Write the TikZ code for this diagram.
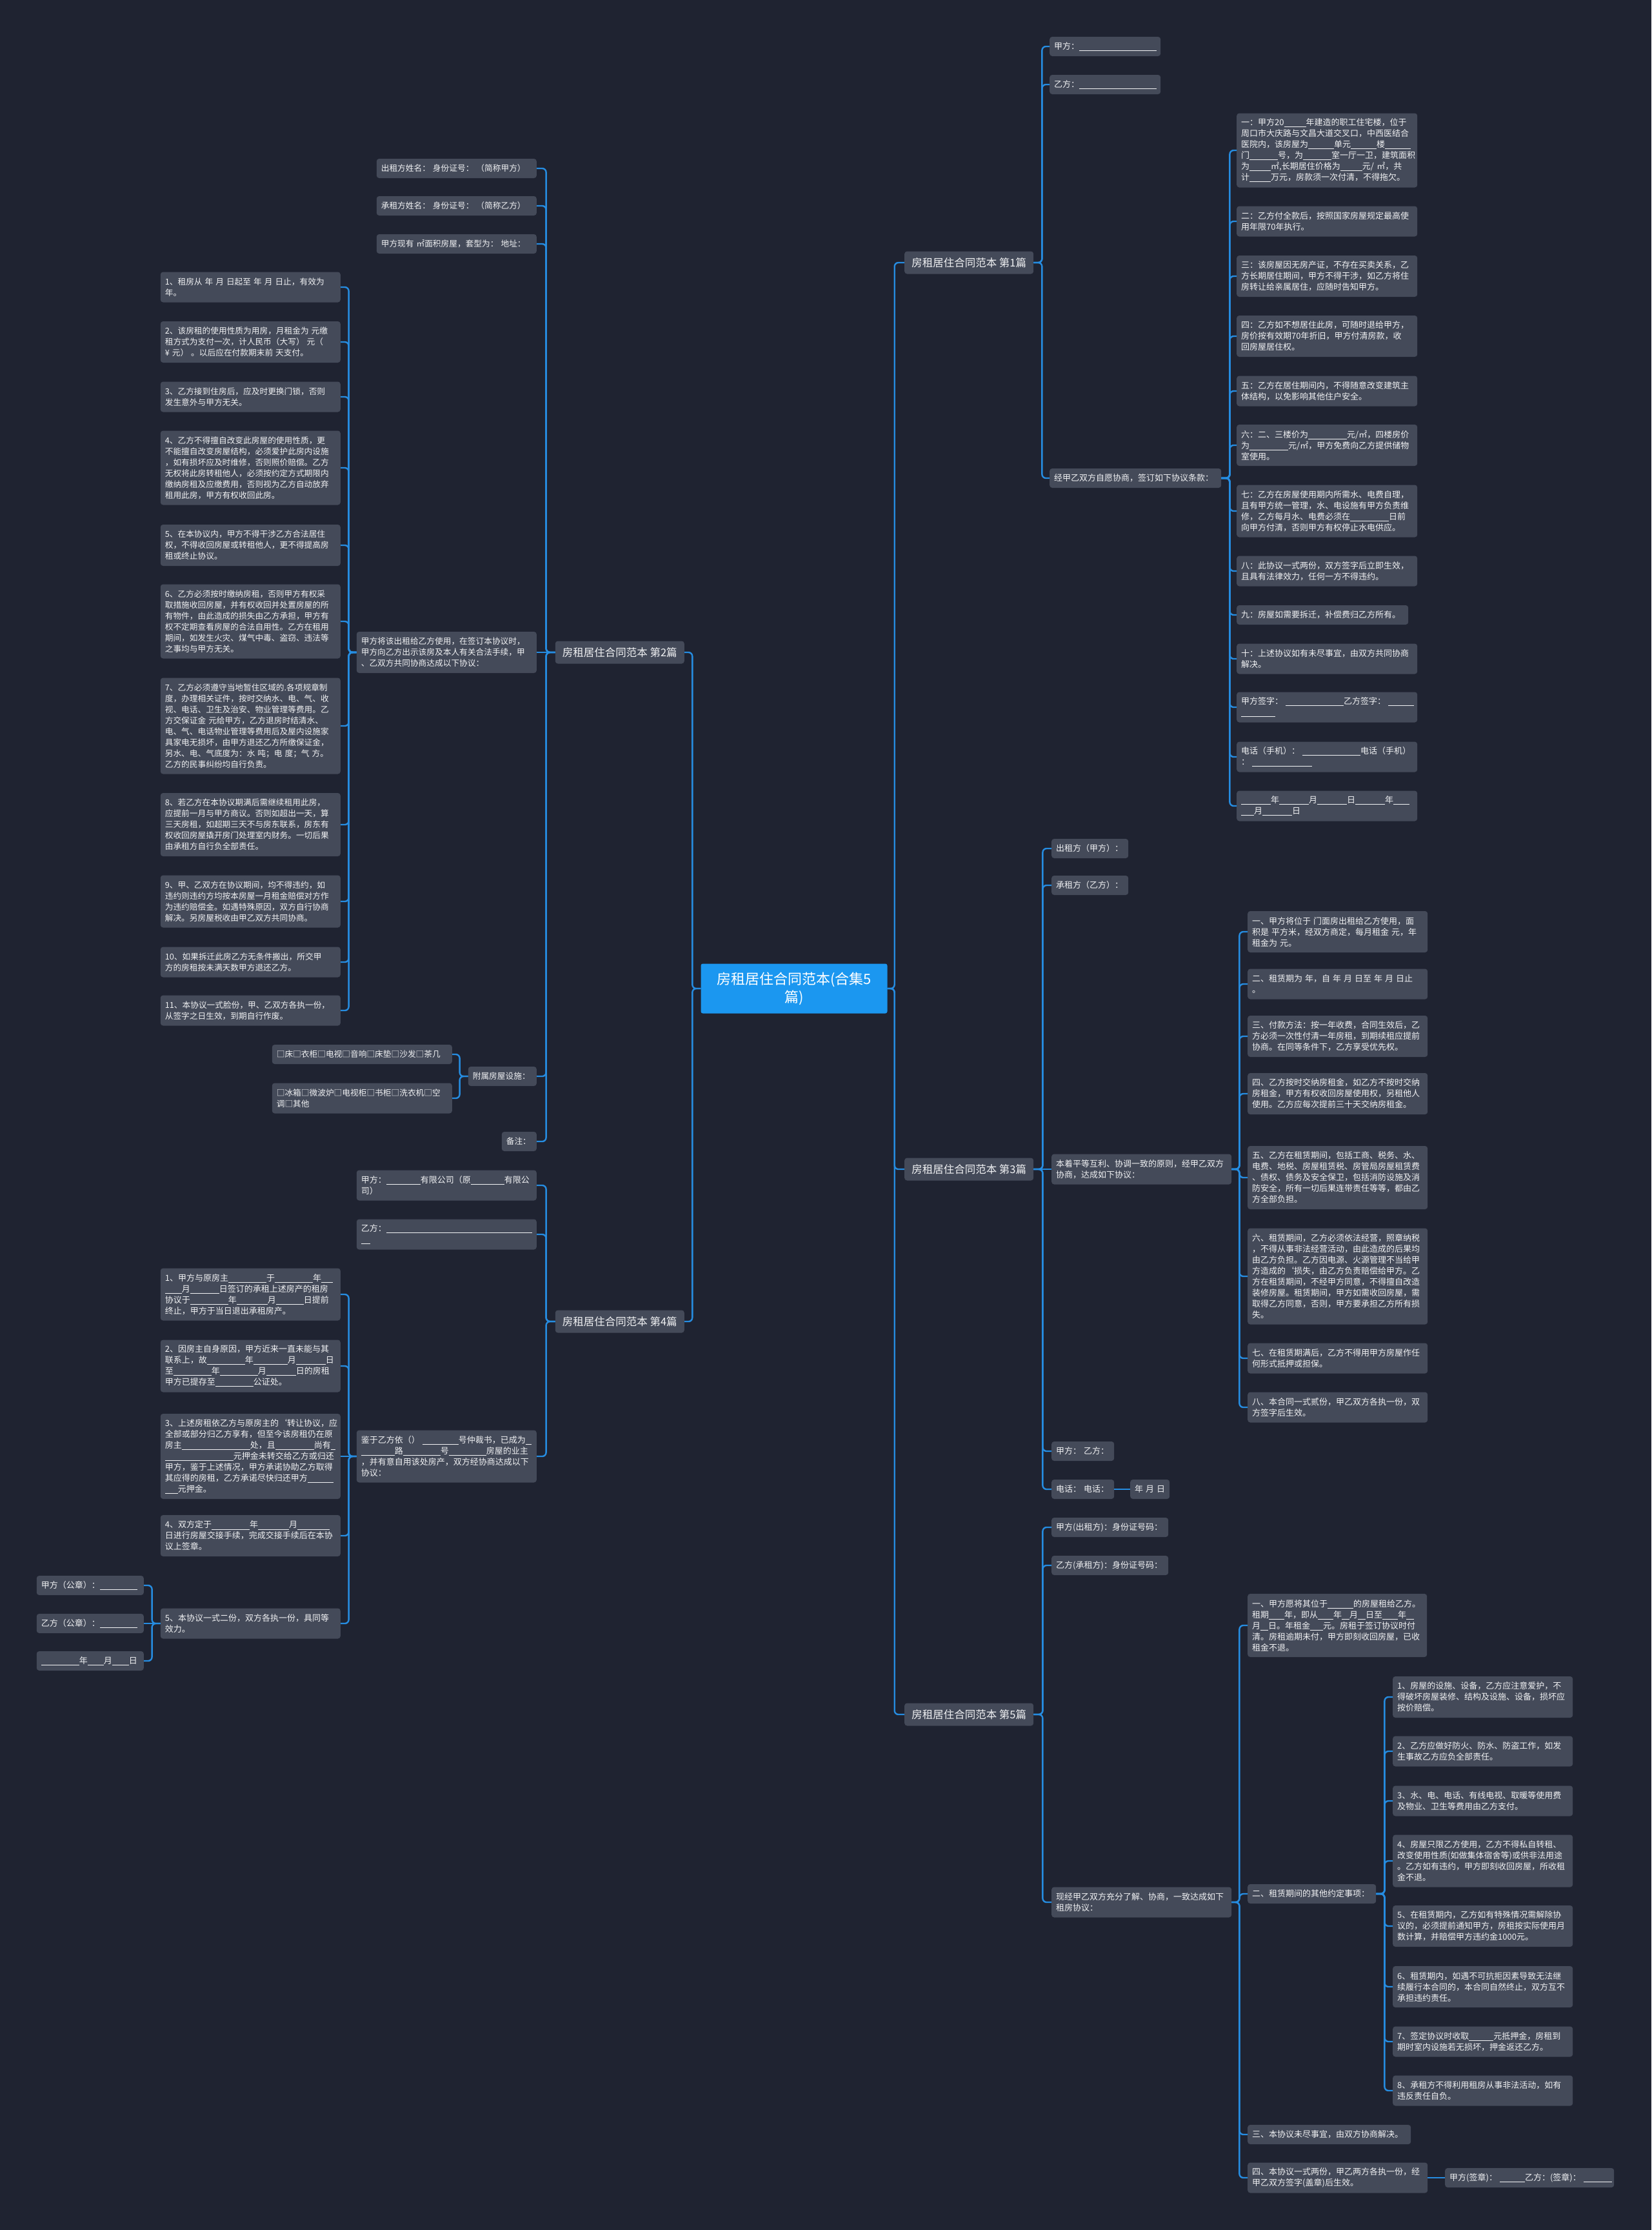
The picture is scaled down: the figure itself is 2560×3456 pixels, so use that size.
\documentclass[tikz,border=0pt]{standalone}
\usepackage{fontspec}
\setmainfont{Noto Sans CJK SC}
\definecolor{bgc}{HTML}{1F2331}
\definecolor{boxc}{HTML}{444A59}
\definecolor{linec}{HTML}{268CE0}
\definecolor{rootc}{HTML}{1B97F0}
\definecolor{txtc}{HTML}{F0F1F3}
\newcommand{\blnk}[1]{\rule[-2.5pt]{#1pt}{0.9pt}}
\newcommand{\kong}{\kern4pt\relax}
\newcommand{\fsz}{\fontsize{13pt}{17pt}\selectfont}
\newcommand{\fszb}{\fontsize{12.7pt}{17pt}\selectfont}
\begin{document}
\begin{tikzpicture}[x=1pt,y=-1pt,
  box/.style={fill=boxc, text=txtc, rounded corners=4pt, align=left, inner xsep=7pt, inner ysep=0pt, font=\fsz},
  rb/.style={box, anchor=west},
  lb/.style={box, anchor=east},
  fb/.style={font=\fszb},
  tw/.style={text width=#1pt},
  nl/.style={minimum height={17*#1+13}},
  conn/.style={draw=linec, line width=2.4pt, rounded corners=6pt},
  br/.style={fill=boxc, text=txtc, rounded corners=4pt, font=\fontsize{16.5pt}{20pt}\selectfont, minimum height=35pt, minimum width=200pt, inner xsep=8pt, inner ysep=0pt},
]
\useasboundingbox (0,0) rectangle (2560,3456);
\fill[bgc] (0,0) rectangle (2560,3456);

% root and branches
\node[fill=rootc, text=white, rounded corners=3pt, minimum width=289pt, minimum height=77pt, align=center, font=\fontsize{22pt}{28pt}\selectfont, inner sep=0pt] (root) at (1231,1532) {房租居住合同范本(合集5\\篇)};
\node[br, anchor=west] (b1) at (1402,407) {房租居住合同范本 第1篇};
\node[br, anchor=east] (b2) at (1061,1011) {房租居住合同范本 第2篇};
\node[br, anchor=west] (b3) at (1402,1812) {房租居住合同范本 第3篇};
\node[br, anchor=east] (b4) at (1061,2048) {房租居住合同范本 第4篇};
\node[br, anchor=west] (b5) at (1402,2657) {房租居住合同范本 第5篇};

% ---- 第1篇
\node[rb, tw=158, nl=1] (p1a) at (1627,72) {甲方：\blnk{120}};
\node[rb, tw=158, nl=1] (p1b) at (1627,131) {乙方：\blnk{120}};
\node[rb, tw=252, nl=1] (p1c) at (1627,741) {经甲乙双方自愿协商，签订如下协议条款：};
\node[rb, tw=266, nl=6] (a1) at (1917,233) {一：甲方20\blnk{34}年建造的职工住宅楼，位于\\周口市大庆路与文昌大道交叉口，中西医结合\\医院内，该房屋为\blnk{40}单元\blnk{40}楼\blnk{40}\\门\blnk{44}号，为\blnk{44}室一厅一卫，建筑面积\\为\blnk{33}㎡,长期居住价格为\blnk{34}元/~㎡，共\\计\blnk{33}万元，房款须一次付清，不得拖欠。};
\node[rb, tw=266, nl=2] (a2) at (1917,343) {二：乙方付全款后，按照国家房屋规定最高使\\用年限70年执行。};
\node[rb, tw=266, nl=3] (a3) at (1917,428) {三：该房屋因无房产证，不存在买卖关系，乙\\方长期居住期间，甲方不得干涉，如乙方将住\\房转让给亲属居住，应随时告知甲方。};
\node[rb, tw=266, nl=3] (a4) at (1917,521) {四：乙方如不想居住此房，可随时退给甲方，\\房价按有效期70年折旧，甲方付清房款，收\\回房屋居住权。};
\node[rb, tw=266, nl=2] (a5) at (1917,606) {五：乙方在居住期间内，不得随意改变建筑主\\体结构，以免影响其他住户安全。};
\node[rb, tw=266, nl=3] (a6) at (1917,690) {六：二、三楼价为\blnk{60}元/㎡，四楼房价\\为\blnk{60}元/㎡，甲方免费向乙方提供储物\\室使用。};
\node[rb, tw=266, nl=4] (a7) at (1917,792) {七：乙方在房屋使用期内所需水、电费自理，\\且有甲方统一管理，水、电设施有甲方负责维\\修，乙方每月水、电费必须在\blnk{60}日前\\向甲方付清，否则甲方有权停止水电供应。};
\node[rb, tw=266, nl=2] (a8) at (1917,885) {八：此协议一式两份，双方签字后立即生效，\\且具有法律效力，任何一方不得违约。};
\node[rb, tw=252, nl=1] (a9) at (1917,953) {九：房屋如需要拆迁，补偿费归乙方所有。};
\node[rb, tw=266, nl=2] (a10) at (1917,1021) {十：上述协议如有未尽事宜，由双方共同协商\\解决。};
\node[rb, tw=266, nl=2] (a11) at (1917,1096) {甲方签字：\kong\blnk{90}乙方签字：\kong\blnk{40}\\\blnk{53}};
\node[rb, tw=266, nl=2] (a12) at (1917,1173) {电话（手机）：\kong\blnk{90}电话（手机）\\：\kong\blnk{93}};
\node[rb, tw=266, nl=2] (a13) at (1917,1249) {\blnk{46}年\blnk{46}月\blnk{46}日\blnk{46}年\blnk{25}\\\blnk{20}月\blnk{46}日};

% ---- 第3篇
\node[rb, tw=105, nl=1] (c1) at (1630,1315) {出租方（甲方）：};
\node[rb, tw=105, nl=1] (c2) at (1630,1372) {承租方（乙方）：};
\node[rb, tw=265, nl=2] (c3) at (1630,1812) {本着平等互利、协调一致的原则，经甲乙双方\\协商，达成如下协议：};
\node[rb, tw=83, nl=1] (c4) at (1630,2249) {甲方：\kong 乙方：};
\node[rb, tw=83, nl=1] (c5) at (1630,2308) {电话：\kong 电话：};
\node[rb, tw=47, nl=1] (c6) at (1752,2308) {年\kong 月\kong 日};
\node[rb, tw=265, nl=3] (d1) at (1934,1444) {一、甲方将位于\kong 门面房出租给乙方使用，面\\积是\kong 平方米，经双方商定，每月租金\kong 元，年\\租金为\kong 元。};
\node[rb, tw=265, nl=2] (d2) at (1934,1525) {二、租赁期为\kong 年，自\kong 年\kong 月\kong 日至\kong 年\kong 月\kong 日止\\。};
\node[rb, tw=265, nl=3] (d3) at (1934,1606) {三、付款方法：按一年收费，合同生效后，乙\\方必须一次性付清一年房租，到期续租应提前\\协商。在同等条件下，乙方享受优先权。};
\node[rb, tw=265, nl=3] (d4) at (1934,1695) {四、乙方按时交纳房租金，如乙方不按时交纳\\房租金，甲方有权收回房屋使用权，另租他人\\使用。乙方应每次提前三十天交纳房租金。};
\node[rb, tw=265, nl=5] (d5) at (1934,1825) {五、乙方在租赁期间，包括工商、税务、水、\\电费、地税、房屋租赁税、房管局房屋租赁费\\、债权、债务及安全保卫，包括消防设施及消\\防安全，所有一切后果连带责任等等，都由乙\\方全部负担。};
\node[rb, tw=265, nl=8] (d6) at (1934,1978) {六、租赁期间，乙方必须依法经营，照章纳税\\，不得从事非法经营活动，由此造成的后果均\\由乙方负担。乙方因电源、火源管理不当给甲\\方造成的`损失，由乙方负责赔偿给甲方。乙\\方在租赁期间，不经甲方同意，不得擅自改造\\装修房屋。租赁期间，甲方如需收回房屋，需\\取得乙方同意，否则，甲方要承担乙方所有损\\失。};
\node[rb, tw=265, nl=2] (d7) at (1934,2105) {七、在租赁期满后，乙方不得用甲方房屋作任\\何形式抵押或担保。};
\node[rb, tw=265, nl=2] (d8) at (1934,2181) {八、本合同一式贰份，甲乙双方各执一份，双\\方签字后生效。};

% ---- 第5篇
\node[rb, tw=167, nl=1] (e1) at (1630,2367) {甲方(出租方)：身份证号码：};
\node[rb, tw=167, nl=1] (e2) at (1630,2426) {乙方(承租方)：身份证号码：};
\node[rb, tw=265, nl=2] (e3) at (1630,2948) {现经甲乙双方充分了解、协商，一致达成如下\\租房协议：};
\node[rb, tw=264, nl=5] (f1) at (1934,2519) {一、甲方愿将其位于\blnk{40}的房屋租给乙方。\\租期\blnk{24}年，即从\blnk{24}年\blnk{12}月\blnk{12}日至\blnk{24}年\blnk{12}\\月\blnk{12}日。年租金\blnk{20}元。房租于签订协议时付\\清。房租逾期未付，甲方即刻收回房屋，已收\\租金不退。};
\node[rb, tw=185, nl=1] (f2) at (1934,2935) {二、租赁期间的其他约定事项：};
\node[rb, tw=239, nl=1] (f3) at (1934,3308) {三、本协议未尽事宜，由双方协商解决。};
\node[rb, tw=265, nl=2] (f4) at (1934,3375) {四、本协议一式两份，甲乙两方各执一份，经\\甲乙双方签字(盖章)后生效。};
\node[rb, tw=248, nl=1] (f5) at (2240,3375) {甲方(签章)：\kong\blnk{39}乙方：(签章)：\kong\blnk{44}};
\node[rb, tw=265, nl=3] (g1) at (2159,2630) {1、房屋的设施、设备，乙方应注意爱护，不\\得破坏房屋装修、结构及设施、设备，损坏应\\按价赔偿。};
\node[rb, tw=265, nl=2] (g2) at (2159,2714) {2、乙方应做好防火、防水、防盗工作，如发\\生事故乙方应负全部责任。};
\node[rb, tw=265, nl=2] (g3) at (2159,2791) {3、水、电、电话、有线电视、取暖等使用费\\及物业、卫生等费用由乙方支付。};
\node[rb, tw=265, nl=4] (g4) at (2159,2884) {4、房屋只限乙方使用，乙方不得私自转租、\\改变使用性质(如做集体宿舍等)或供非法用途\\。乙方如有违约，甲方即刻收回房屋，所收租\\金不退。};
\node[rb, tw=265, nl=3] (g5) at (2159,2985) {5、在租赁期内，乙方如有特殊情况需解除协\\议的，必须提前通知甲方，房租按实际使用月\\数计算，并赔偿甲方违约金1000元。};
\node[rb, tw=265, nl=3] (g6) at (2159,3079) {6、租赁期内，如遇不可抗拒因素导致无法继\\续履行本合同的，本合同自然终止，双方互不\\承担违约责任。};
\node[rb, tw=265, nl=2] (g7) at (2159,3164) {7、签定协议时收取\blnk{38}元抵押金，房租到\\期时室内设施若无损坏，押金返还乙方。};
\node[rb, tw=265, nl=2] (g8) at (2159,3240) {8、承租方不得利用租房从事非法活动，如有\\违反责任自负。};

% ---- 第2篇
\node[lb, fb, tw=234, nl=1] (h1) at (832,261) {出租方姓名：\kong 身份证号：\kong （简称甲方）};
\node[lb, fb, tw=234, nl=1] (h2) at (832,319) {承租方姓名：\kong 身份证号：\kong （简称乙方）};
\node[lb, fb, tw=234, nl=1] (h3) at (832,378) {甲方现有\kong ㎡面积房屋，套型为：\kong 地址：};
\node[lb, fb, tw=265, nl=3] (h4) at (832,1011) {甲方将该出租给乙方使用，在签订本协议时，\\甲方向乙方出示该房及本人有关合法手续，甲\\、乙双方共同协商达成以下协议：};
\node[lb, fb, tw=92, nl=1] (h5) at (832,1668) {附属房屋设施：};
\node[lb, fb, tw=40, nl=1] (h6) at (832,1769) {备注：};
\node[lb, fb, tw=265, nl=2] (i1) at (528,445) {1、租房从\kong 年\kong 月\kong 日起至\kong 年\kong 月\kong 日止，有效为\\年。};
\node[lb, fb, tw=265, nl=3] (i2) at (528,530) {2、该房租的使用性质为用房，月租金为\kong 元缴\\租方式为支付一次，计人民币（大写）\kong 元（\\¥\kong 元）\kong 。以后应在付款期末前\kong 天支付。};
\node[lb, fb, tw=265, nl=2] (i3) at (528,615) {3、乙方接到住房后，应及时更换门锁，否则\\发生意外与甲方无关。};
\node[lb, fb, tw=265, nl=6] (i4) at (528,725) {4、乙方不得擅自改变此房屋的使用性质，更\\不能擅自改变房屋结构，必须爱护此房内设施\\，如有损坏应及时维修，否则照价赔偿。乙方\\无权将此房转租他人，必须按约定方式期限内\\缴纳房租及应缴费用，否则视为乙方自动放弃\\租用此房，甲方有权收回此房。};
\node[lb, fb, tw=265, nl=3] (i5) at (528,845) {5、在本协议内，甲方不得干涉乙方合法居住\\权，不得收回房屋或转租他人，更不得提高房\\租或终止协议。};
\node[lb, fb, tw=265, nl=6] (i6) at (528,963) {6、乙方必须按时缴纳房租，否则甲方有权采\\取措施收回房屋，并有权收回并处置房屋的所\\有物件，由此造成的损失由乙方承担，甲方有\\权不定期查看房屋的合法自用性。乙方在租用\\期间，如发生火灾、煤气中毒、盗窃、违法等\\之事均与甲方无关。};
\node[lb, fb, tw=265, nl=8] (i7) at (528,1125) {7、乙方必须遵守当地暂住区域的.各项规章制\\度，办理相关证件，按时交纳水、电、气、收\\视、电话、卫生及治安、物业管理等费用。乙\\方交保证金\kong 元给甲方，乙方退房时结清水、\\电、气、电话物业管理等费用后及屋内设施家\\具家电无损坏，由甲方退还乙方所缴保证金，\\另水、电、气底度为：水\kong 吨；电\kong 度；气\kong 方。\\乙方的民事纠纷均自行负责。};
\node[lb, fb, tw=265, nl=5] (i8) at (528,1278) {8、若乙方在本协议期满后需继续租用此房，\\应提前一月与甲方商议。否则如超出一天，算\\三天房租，如超期三天不与房东联系，房东有\\权收回房屋撬开房门处理室内财务。一切后果\\由承租方自行负全部责任。};
\node[lb, fb, tw=265, nl=4] (i9) at (528,1397) {9、甲、乙双方在协议期间，均不得违约，如\\违约则违约方均按本房屋一月租金赔偿对方作\\为违约赔偿金。如遇特殊原因，双方自行协商\\解决。另房屋税收由甲乙双方共同协商。};
\node[lb, fb, tw=265, nl=2] (i10) at (528,1491) {10、如果拆迁此房乙方无条件搬出，所交甲\\方的房租按未满天数甲方退还乙方。};
\node[lb, fb, tw=265, nl=2] (i11) at (528,1566) {11、本协议一式脸份，甲、乙双方各执一份，\\从签字之日生效，到期自行作废。};
\node[lb, fb, tw=265, nl=1] (j1) at (701,1634) {□床□衣柜□电视□音响□床垫□沙发□茶几};
\node[lb, fb, tw=265, nl=2] (j2) at (701,1702) {□冰箱□微波炉□电视柜□书柜□洗衣机□空\\调□其他};

% ---- 第4篇
\node[lb, tw=265, nl=2] (k1) at (832,1837) {甲方：\blnk{53}有限公司（原\blnk{52}有限公\\司）};
\node[lb, tw=265, nl=2] (k2) at (832,1913) {乙方：\blnk{226}\\\blnk{14}};
\node[lb, tw=265, nl=4] (k3) at (832,2257) {鉴于乙方依（）\kong\blnk{56}号仲裁书，已成为\blnk{9}\\\blnk{52}路\blnk{58}号\blnk{58}房屋的业主\\，并有意自用该处房产，双方经协商达成以下\\协议：};
\node[lb, tw=265, nl=4] (l1) at (528,2006) {1、甲方与原房主\blnk{59}于\blnk{59}年\blnk{18}\\\blnk{26}月\blnk{45}日签订的承租上述房产的租房\\协议于\blnk{59}年\blnk{48}月\blnk{43}日提前\\终止，甲方于当日退出承租房产。};
\node[lb, tw=265, nl=4] (l2) at (528,2117) {2、因房主自身原因，甲方近来一直未能与其\\联系上，故\blnk{59}年\blnk{53}月\blnk{46}日\\至\blnk{59}年\blnk{59}月\blnk{46}日的房租\\甲方已提存至\blnk{59}公证处。};
\node[lb, tw=265, nl=7] (l3) at (528,2257) {3、上述房租依乙方与原房主的`转让协议，应\\全部或部分归乙方享有，但至今该房租仍在原\\房主\blnk{106}处，且\blnk{60}尚有\blnk{7}\\\blnk{106}元押金未转交给乙方或归还\\甲方，鉴于上述情况，甲方承诺协助乙方取得\\其应得的房租，乙方承诺尽快归还甲方\blnk{40}\\\blnk{20}元押金。};
\node[lb, tw=265, nl=3] (l4) at (528,2380) {4、双方定于\blnk{59}年\blnk{48}月\blnk{50}\\日进行房屋交接手续，完成交接手续后在本协\\议上签章。};
\node[lb, tw=265, nl=2] (l5) at (528,2516) {5、本协议一式二份，双方各执一份，具同等\\效力。};
\node[lb, tw=152, nl=1] (m1) at (223,2457) {甲方（公章）：\blnk{58}};
\node[lb, tw=152, nl=1] (m2) at (223,2516) {乙方（公章）：\blnk{58}};
\node[lb, tw=152, nl=1] (m3) at (223,2574) {\blnk{59}年\blnk{25}月\blnk{26}日};

% ---- connectors
\foreach \x in {b1,b3,b5} \draw[conn] (root.east) -- ++(11,0) |- (\x.west);
\foreach \x in {b2,b4} \draw[conn] (root.west) -- ++(-13,0) |- (\x.east);
\foreach \x in {p1a,p1b,p1c} \draw[conn] (b1.east) -- ++(13,0) |- (\x.west);
\foreach \x in {a1,a2,a3,a4,a5,a6,a7,a8,a9,a10,a11,a12,a13} \draw[conn] (p1c.east) -- ++(13,0) |- (\x.west);
\foreach \x in {c1,c2,c4,c5} \draw[conn] (b3.east) -- ++(14,0) |- (\x.west);
\draw[conn] (b3.east) -- (c3.west);
\draw[conn] (c5.east) -- (c6.west);
\foreach \x in {d1,d2,d3,d4,d5,d6,d7,d8} \draw[conn] (c3.east) -- ++(12,0) |- (\x.west);
\foreach \x in {e1,e2,e3} \draw[conn] (b5.east) -- ++(14,0) |- (\x.west);
\foreach \x in {f1,f2,f3,f4} \draw[conn] (e3.east) -- ++(12,0) |- (\x.west);
\draw[conn] (f4.east) -- (f5.west);
\foreach \x in {g1,g2,g3,g4,g5,g6,g7,g8} \draw[conn] (f2.east) -- ++(13,0) |- (\x.west);
\foreach \x in {h1,h2,h3,h5,h6} \draw[conn] (b2.west) -- ++(-14,0) |- (\x.east);
\draw[conn] (b2.west) -- (h4.east);
\foreach \x in {i1,i2,i3,i4,i5,i6,i7,i8,i9,i10,i11} \draw[conn] (h4.west) -- ++(-12,0) |- (\x.east);
\foreach \x in {j1,j2} \draw[conn] (h5.west) -- ++(-13,0) |- (\x.east);
\foreach \x in {k1,k2,k3} \draw[conn] (b4.west) -- ++(-14,0) |- (\x.east);
\foreach \x in {l1,l2,l4,l5} \draw[conn] (k3.west) -- ++(-12,0) |- (\x.east);
\draw[conn] (k3.west) -- (l3.east);
\foreach \x in {m1,m3} \draw[conn] (l5.west) -- ++(-13,0) |- (\x.east);
\draw[conn] (l5.west) -- (m2.east);
\end{tikzpicture}
\end{document}
